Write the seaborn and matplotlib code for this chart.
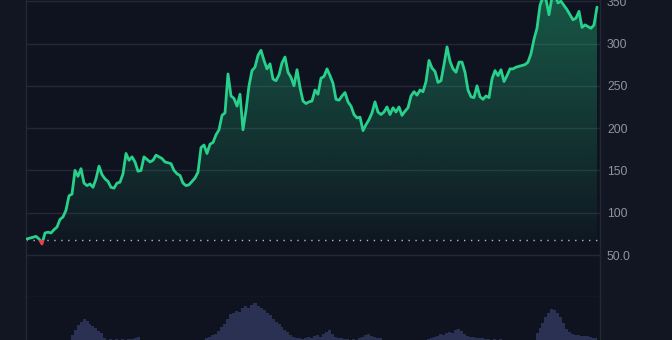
import numpy as np
import pandas as pd
import matplotlib
matplotlib.use("Agg")
import matplotlib.pyplot as plt
from matplotlib.patches import Rectangle
import seaborn as sns

# ---- data ----
price = [69, 70, 71, 72, 69, 63, 76, 77, 76, 80, 83, 92, 95, 103, 120, 122, 150, 143, 152, 135,
         132, 134, 130, 140, 155, 145, 140, 137, 130, 129, 135, 136, 146, 170, 162, 166, 160, 149, 150, 166,
         163, 160, 162, 168, 166, 164, 160, 159, 158, 150, 146, 144, 135, 132, 133, 137, 141, 148, 177, 180,
         170, 181, 183, 192, 198, 215, 218, 264, 238, 235, 226, 240, 198, 221, 250, 268, 272, 286, 292, 280,
         270, 276, 258, 256, 263, 277, 284, 266, 260, 250, 269, 248, 232, 229, 231, 232, 245, 240, 259, 261,
         270, 262, 253, 234, 233, 238, 242, 231, 226, 216, 212, 213, 197, 204, 210, 218, 231, 219, 216, 219,
         225, 216, 224, 219, 225, 215, 220, 224, 238, 243, 239, 245, 243, 255, 280, 271, 267, 254, 256, 275,
         296, 279, 270, 266, 278, 278, 266, 245, 237, 236, 250, 237, 234, 238, 236, 258, 268, 262, 269, 255,
         262, 270, 270, 272, 273, 274, 275, 278, 288, 305, 318, 345, 355, 352, 334, 355, 358, 348, 350, 345,
         340, 334, 328, 330, 338, 319, 322, 320, 318, 322, 343]
volume = [0, 0, 0, 0, 0, 0, 0, 0, 0, 0, 0, 0, 0, 0, 1, 6, 11, 16, 19, 22,
          20, 17, 15, 13, 10, 8, 3, 1, 2, 1, 2, 1, 2, 1, 2, 2, 3, 4, 1, 0,
          0, 0, 0, 0, 0, 0, 0, 0, 0, 0, 0, 0, 0, 0, 0, 0, 0, 0, 0, 0,
          3, 4, 6, 7, 10, 14, 17, 22, 27, 28, 30, 29, 33, 35, 33, 36, 38, 35, 33, 31,
          28, 26, 22, 19, 17, 14, 11, 9, 6, 4, 3, 3, 2, 3, 4, 3, 5, 6, 4, 7,
          9, 11, 7, 4, 3, 3, 2, 2, 1, 2, 1, 3, 4, 6, 7, 5, 4, 3, 3, 1,
          0, 0, 0, 0, 0, 0, 0, 0, 0, 0, 0, 0, 0, 0, 2, 3, 4, 5, 7, 6,
          8, 9, 8, 11, 12, 10, 7, 5, 4, 4, 3, 3, 3, 2, 2, 1, 2, 1, 2, 1,
          0, 0, 0, 0, 0, 0, 0, 0, 0, 0, 8, 13, 18, 24, 28, 32, 31, 28, 24, 18,
          12, 9, 7, 6, 6, 5, 5, 5, 4, 3, 3]
baseline = 67.5
tick_values = [50, 100, 150, 200, 250, 300, 350]
tick_labels = ["50.0", "100", "150", "200", "250", "300", "350"]

df = pd.DataFrame({"day": np.arange(len(price)), "price": price, "volume": volume})

# ---- style ----
BG = "#121623"
PANE = "#0f131f"
GRID = "#232837"
GREEN = "#27d18b"
RED = "#e0454f"
VOL = "#2b3152"
TXT = "#8e939f"

sns.set_style("dark")
plt.rcParams["font.family"] = ["Liberation Sans", "DejaVu Sans"]

W, H = 672, 340
fig = plt.figure(figsize=(W / 100, H / 100), dpi=100, facecolor=BG)
left, right = 26 / W, 600 / W
sep = (H - 297.3) / H
ax = fig.add_axes([left, sep, right - left, 1 - sep])
axv = fig.add_axes([left, 0, right - left, sep], sharex=ax)

xmin, xmax = -1 / 3, len(price) - 0.0
ymax = 297.3 * 50 / 42.3

for a in (ax, axv):
    a.set_facecolor(PANE)
    for s in a.spines.values():
        s.set_color(GRID)
        s.set_linewidth(1)

ax.set_xlim(xmin, xmax)
ax.set_ylim(0, ymax)

# gridlines
for v in tick_values:
    ax.axhline(v, color=GRID, lw=1, zorder=0)

# gradient fill between line and baseline
poly = ax.fill_between(df["day"], df["price"], baseline, facecolor="none", edgecolor="none")
n = 256
grad = np.zeros((n, 1, 4))
rgb = matplotlib.colors.to_rgb(GREEN)
grad[:, 0, :3] = rgb
grad[:, 0, 3] = np.linspace(0.03, 0.36, n)
im = ax.imshow(grad, extent=[xmin, xmax, baseline, ymax], origin="lower",
               aspect="auto", zorder=1)
im.set_clip_path(poly.get_paths()[0], transform=ax.transData)

# baseline dotted
ax.axhline(baseline, color="#b5bac4", lw=1, ls=(0, (1, 4)), zorder=2)

# price line: green above baseline, red below
sns.lineplot(data=df, x="day", y="price", ax=ax, color=GREEN, lw=2, zorder=3)
gline = ax.lines[-1]
gline.set_solid_joinstyle("round")
gline.set_clip_path(Rectangle((xmin, baseline), xmax - xmin, 1000, transform=ax.transData))
rline, = ax.plot(df["day"], df["price"], color=RED, lw=2, zorder=3)
rline.set_clip_path(Rectangle((xmin, -1000), xmax - xmin, 1000 + baseline, transform=ax.transData))

ax.set_xlabel("")
ax.set_ylabel("")
ax.yaxis.tick_right()
ax.set_yticks(tick_values)
ax.set_yticklabels(tick_labels)
ax.tick_params(axis="y", length=0, pad=5, labelsize=8.8, colors=TXT)
ax.tick_params(axis="x", length=0, labelbottom=False)
ax.grid(False)
ax.spines["top"].set_visible(False)

# volume
axv.fill_between(df["day"], df["volume"], 0, step="mid", color=VOL, linewidth=0)
axv.set_ylim(1.2, 44)
axv.set_xlim(xmin, xmax)
axv.set_yticks([])
axv.tick_params(axis="x", length=0, labelbottom=False)
axv.spines["top"].set_visible(False)
axv.spines["bottom"].set_visible(False)
axv.grid(False)

fig.savefig("out.png", dpi=100, facecolor=BG)
